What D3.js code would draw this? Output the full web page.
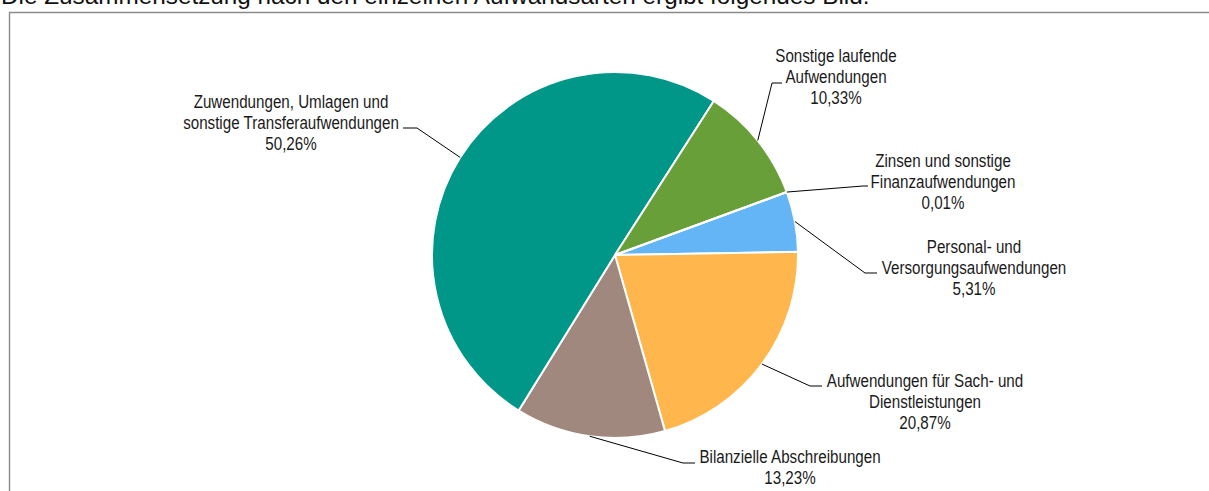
<!DOCTYPE html>
<html>
<head>
<meta charset="utf-8">
<script src="https://cdn.jsdelivr.net/npm/d3@7"></script>
<style>
  html, body { margin: 0; padding: 0; background: #fff; }
  svg { display: block; }
  .lbl { font-family: "Liberation Sans", Arial, sans-serif; font-size: 18.5px; fill: #1a1a1a; }
</style>
</head>
<body>
<div id="chart"></div>
<script>
// Aufwandsarten, Anteile in Prozent
const categories = [
    "Personal- und Versorgungsaufwendungen",
    "Aufwendungen für Sach- und Dienstleistungen",
    "Bilanzielle Abschreibungen",
    "Zuwendungen, Umlagen und sonstige Transferaufwendungen",
    "Sonstige laufende Aufwendungen",
    "Zinsen und sonstige Finanzaufwendungen"
];
const values = [5.31, 20.87, 13.23, 50.26, 10.33, 0.01];
const labelLines = [
    ["Personal- und", "Versorgungsaufwendungen"],
    ["Aufwendungen für Sach- und", "Dienstleistungen"],
    ["Bilanzielle Abschreibungen"],
    ["Zuwendungen, Umlagen und", "sonstige Transferaufwendungen"],
    ["Sonstige laufende", "Aufwendungen"],
    ["Zinsen und sonstige", "Finanzaufwendungen"]
];
const colors = ["#64B5F6", "#FFB74D", "#A1887F", "#009688", "#689F38", "#E57373"];

// label placement (text centre x, first baseline y, leader elbow and end)
const labelLayout = [
    { x: 974, y: 253, elbow: [865, 273], end: [877, 273] },
    { x: 925, y: 387, elbow: [810, 386], end: [822, 386] },
    { x: 790, y: 463, elbow: [683, 463], end: [695, 463] },
    { x: 291, y: 108, elbow: [417, 128], end: [403, 128] },
    { x: 836, y: 62, elbow: [772, 83], end: [782, 83] },
    { x: 943, y: 167, elbow: [863, 186], end: [868, 186] }
];

const width = 1209;
const height = 491;
const cx = 615, cy = 255, radius = 183;
const lineGap = 21;
const squeeze = 0.82; // labels use a narrow face in the original

const svg = d3.select("#chart")
    .append("svg")
    .attr("width", width)
    .attr("height", height);

// cut-off sentence above the chart frame
svg.append("text")
    .attr("x", 1)
    .attr("y", 4)
    .style("font-family", "\"Liberation Sans\", Arial, sans-serif")
    .style("font-size", "24.3px")
    .attr("fill", "#111")
    .text("Die Zusammensetzung nach den einzelnen Aufwandsarten ergibt folgendes Bild:");

// frame
svg.append("path")
    .attr("d", `M9.5,${height} V12.5 H${width}`)
    .attr("fill", "none")
    .attr("stroke", "#8a8a8a")
    .attr("stroke-width", 1.4);

const pie = d3.pie()
    .sort(null)
    .value(d => d)
    .startAngle(69.9 * Math.PI / 180)
    .endAngle(69.9 * Math.PI / 180 + 2 * Math.PI);

const arcs = pie(values);

const arc = d3.arc().innerRadius(0).outerRadius(radius);
const edge = d3.arc().innerRadius(radius).outerRadius(radius);

const g = svg.append("g").attr("transform", `translate(${cx},${cy})`);

g.selectAll("path")
    .data(arcs)
    .enter().append("path")
    .attr("d", arc)
    .attr("fill", (d, i) => colors[i])
    .attr("stroke", "#fff")
    .attr("stroke-width", 2)
    .attr("stroke-linejoin", "round");

// leader lines
svg.append("g")
    .selectAll("polyline")
    .data(arcs)
    .enter().append("polyline")
    .attr("points", (d, i) => {
        const p = edge.centroid(d);
        const L = labelLayout[i];
        return [[p[0] + cx, p[1] + cy], L.elbow, L.end].map(q => q.join(",")).join(" ");
    })
    .attr("fill", "none")
    .attr("stroke", "#000")
    .attr("stroke-width", 1);

// labels
const fmt = v => d3.format(".2f")(v).replace(".", ",") + "%";
const lbl = svg.append("g")
    .selectAll("text")
    .data(arcs)
    .enter().append("text")
    .attr("class", "lbl")
    .attr("text-anchor", "middle")
    .attr("transform", (d, i) => `translate(${labelLayout[i].x},0) scale(${squeeze},1)`);

lbl.each(function (d, i) {
    const L = labelLayout[i];
    const lines = labelLines[i].concat([fmt(d.data)]);
    d3.select(this).selectAll("tspan")
        .data(lines)
        .enter().append("tspan")
        .attr("x", 0)
        .attr("y", (t, j) => L.y + j * lineGap)
        .text(t => t);
});
</script>
</body>
</html>
